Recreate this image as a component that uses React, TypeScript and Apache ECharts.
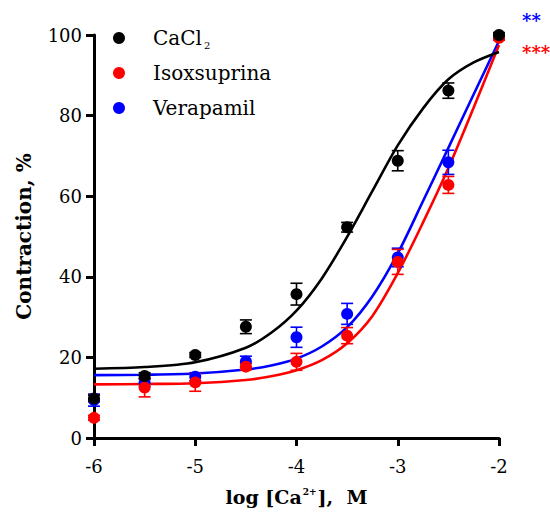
import React, { useEffect, useRef } from "react";
import * as echarts from "echarts";

const doseX = [-6, -5.5, -5, -4.5, -4, -3.5, -3, -2.5, -2];
const cacl2Mean = [9.8, 15.4, 20.6, 27.6, 35.7, 52.3, 68.8, 86.2, 100];
const cacl2Sem = [0.8, 0.8, 0.6, 1.7, 2.7, 1.2, 2.5, 1.9, 0.6];
const isoMean = [5.0, 12.5, 13.8, 17.7, 18.9, 25.4, 43.7, 62.8, 99.3];
const isoSem = [0.6, 2.3, 2.2, 0.8, 2.1, 2.0, 3.1, 2.1, 0.6];
const veraMean = [9.4, 13.8, 15.2, 19.0, 25.0, 30.8, 44.8, 68.4, 99.5];
const veraSem = [1.5, 1.0, 1.0, 1.3, 2.5, 2.6, 2.3, 3.0, 0.6];

const curveX = [-6, -5.5, -5, -4.5, -4.25, -4, -3.75, -3.5, -3.25, -3, -2.75, -2.5, -2.25, -2];
const cacl2Curve = [17.2, 17.6, 18.8, 22.4, 26.1, 31.6, 39.6, 49.9, 61.3, 72.6, 81.8, 89.0, 93.2, 95.8];
const isoCurve = [13.3, 13.4, 13.6, 14.4, 15.3, 16.8, 19.3, 23.5, 30.3, 40.9, 53.5, 67.0, 82.0, 97.5];
const veraCurve = [15.6, 15.7, 16.0, 17.0, 18.0, 19.7, 22.7, 27.5, 35.2, 45.8, 58.8, 72.0, 85.3, 98.5];

const xTicks = [-6, -5, -4, -3, -2];
const yTicks = [0, 20, 40, 60, 80, 100];

const FONT = "DejaVu Serif";
const BLACK = "#000000";
const RED = "#ff0000";
const BLUE = "#0000ff";

function errorSeries(name: string, color: string, mean: number[], sem: number[], z: number) {
  return {
    type: "custom",
    name,
    z,
    encode: { x: 0, y: 1 },
    data: doseX.map((x, i) => [x, mean[i], sem[i]]),
    clip: false,
    renderItem: (params: any, api: any) => {
      const x = api.value(0);
      const y = api.value(1);
      const e = api.value(2);
      const top = api.coord([x, y + e]);
      const bot = api.coord([x, y - e]);
      const hw = 6;
      const st = { stroke: color, lineWidth: 1.6 };
      return {
        type: "group",
        children: [
          { type: "line", shape: { x1: top[0], y1: top[1], x2: bot[0], y2: bot[1] }, style: st },
          { type: "line", shape: { x1: top[0] - hw, y1: top[1], x2: top[0] + hw, y2: top[1] }, style: st },
          { type: "line", shape: { x1: bot[0] - hw, y1: bot[1], x2: bot[0] + hw, y2: bot[1] }, style: st },
        ],
      };
    },
  };
}

function curveSeries(name: string, color: string, ys: number[], z: number) {
  return {
    type: "line",
    name,
    z,
    data: curveX.map((x, i) => [x, ys[i]]),
    showSymbol: false,
    symbol: "none",
    smooth: 0.3,
    lineStyle: { color, width: 2.6 },
    silent: true,
  };
}

function pointSeries(name: string, color: string, mean: number[], z: number) {
  return {
    type: "scatter",
    name,
    z,
    symbol: "circle",
    symbolSize: 12,
    itemStyle: { color, opacity: 1 },
    data: doseX.map((x, i) => [x, mean[i]]),
  };
}

export default function App() {
  const ref = useRef<HTMLDivElement>(null);
  useEffect(() => {
    if (!ref.current) return;
    const chart = echarts.init(ref.current, null, { renderer: "svg" });
    const option: any = {
      animation: false,
      backgroundColor: "#ffffff",
      grid: { left: 94, right: 51, top: 35, bottom: 75 },
      legend: {
        data: ["CaCl2", "Isoxsuprina", "Verapamil"],
        orient: "vertical",
        left: 108,
        top: 21,
        itemWidth: 12,
        itemHeight: 12,
        itemGap: 11,
        icon: "circle",
        selectedMode: false,
        formatter: (name: string) => (name === "CaCl2" ? "CaCl{sub|2}" : name),
        textStyle: {
          fontFamily: FONT,
          fontSize: 20,
          color: "#000",
          lineHeight: 24,
          padding: [0, 0, 0, 23],
          rich: {
            sub: { fontFamily: FONT, fontSize: 10, color: "#000", lineHeight: 24, verticalAlign: "bottom", padding: [14, 0, 0, 2] },
          },
        },
      },
      xAxis: {
        type: "value",
        min: -6,
        max: -2,
        interval: 1,
        axisLine: { show: true, onZero: false, lineStyle: { color: BLACK, width: 3 } },
        axisTick: { show: true, length: 8, lineStyle: { color: BLACK, width: 3 } },
        splitLine: { show: false },
        axisLabel: {
          color: "#000",
          fontFamily: FONT,
          fontSize: 18,
          margin: 19,
          formatter: (v: number) => (xTicks.includes(v) ? String(v) : ""),
        },
        name: "log [Ca{sup|2+}],  M",
        nameLocation: "middle",
        nameGap: 49,
        nameTextStyle: {
          fontFamily: FONT,
          fontSize: 19,
          fontWeight: "bold",
          color: "#000",
          rich: {
            sup: { fontFamily: FONT, fontSize: 9, fontWeight: "bold", color: "#000", verticalAlign: "top", padding: [0, 1, 10, 1] },
          },
        },
      },
      yAxis: {
        type: "value",
        min: 0,
        max: 100,
        interval: 20,
        axisLine: { show: true, onZero: false, lineStyle: { color: BLACK, width: 3 } },
        axisTick: { show: true, length: 8, lineStyle: { color: BLACK, width: 3 } },
        splitLine: { show: false },
        axisLabel: {
          color: "#000",
          fontFamily: FONT,
          fontSize: 18,
          margin: 12,
          formatter: (v: number) => (yTicks.includes(v) ? String(v) : ""),
        },
        name: "Contraction, %",
        nameLocation: "middle",
        nameGap: 60,
        nameTextStyle: { fontFamily: FONT, fontSize: 20, fontWeight: "bold", color: "#000" },
      },
      graphic: [
        { type: "text", left: 522, top: 11, style: { text: "**", fill: BLUE, font: `bold 18px "${FONT}"` } },
        { type: "text", left: 522, top: 43, style: { text: "***", fill: RED, font: `bold 18px "${FONT}"` } },
      ],
      series: [
        curveSeries("fitVera", BLUE, veraCurve, 2),
        curveSeries("fitIso", RED, isoCurve, 3),
        curveSeries("fitCa", BLACK, cacl2Curve, 4),
        errorSeries("errVera", BLUE, veraMean, veraSem, 5),
        errorSeries("errIso", RED, isoMean, isoSem, 6),
        errorSeries("errCa", BLACK, cacl2Mean, cacl2Sem, 7),
        pointSeries("Verapamil", BLUE, veraMean, 8),
        pointSeries("Isoxsuprina", RED, isoMean, 9),
        pointSeries("CaCl2", BLACK, cacl2Mean, 10),
      ],
    };
    chart.setOption(option);
    return () => chart.dispose();
  }, []);
  return (
    <div
      ref={ref}
      style={{ position: "fixed", left: 0, top: 0, width: 550, height: 513, background: "#fff" }}
    />
  );
}
